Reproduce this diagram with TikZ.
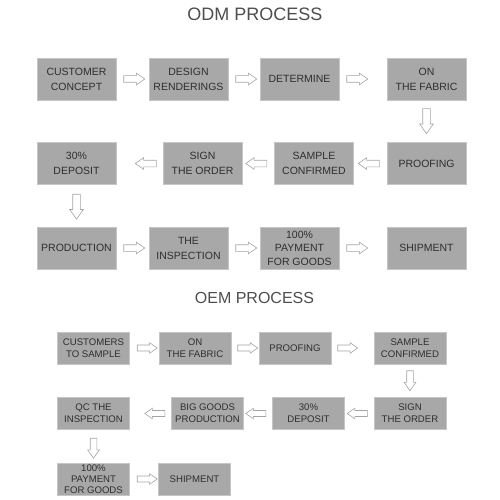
\documentclass[tikz,border=0pt]{standalone}
\usepackage{fontspec}
\setmainfont{Liberation Sans}
\usetikzlibrary{positioning,shapes.arrows}

\definecolor{boxgray}{HTML}{A8A8A8}
\definecolor{boxline}{HTML}{C6C6C6}
\definecolor{txtgray}{HTML}{2E2E2E}
\definecolor{arrgray}{HTML}{A4A4A4}

\tikzset{
    bigbox/.style={draw=boxline, fill=boxgray, line width=0.8pt, minimum width=79pt,
        minimum height=42pt, inner sep=0pt, align=center, text=txtgray,
        font=\fontsize{10.5}{15}\selectfont},
    smallbox/.style={draw=boxline, fill=boxgray, line width=0.8pt, minimum width=72pt,
        minimum height=32pt, inner sep=0pt, align=center, text=txtgray,
        font=\fontsize{9.6}{11.7}\selectfont},
    heading/.style={text=txtgray!85, inner sep=0pt},
    flow/.style={single arrow, draw=arrgray, fill=white, line width=0.6pt,
        single arrow tip angle=70, anchor=tail},
    bigflow/.style={flow, minimum height=21pt, inner xsep=0pt, inner ysep=3pt,
        single arrow head extend=2.5pt},
    bigdown/.style={flow, minimum height=25pt, inner ysep=0pt, inner xsep=3.5pt,
        single arrow head extend=3pt, shape border rotate=270},
    smallflow/.style={flow, minimum height=20pt, inner xsep=0pt, inner ysep=2.7pt,
        single arrow head extend=2.3pt},
    smalldown/.style={flow, minimum height=20pt, inner ysep=0pt, inner xsep=3pt,
        single arrow head extend=2.5pt, shape border rotate=270}
}

\begin{document}
\begin{tikzpicture}[x=1pt, y=-1pt]
    \useasboundingbox (0,0) rectangle (500,500);

    % ODM process
    \node[heading, font=\fontsize{18}{18}\selectfont] (odm) at (255,14) {ODM PROCESS};

    \node[bigbox] (concept) at (76.5,79) {CUSTOMER\\CONCEPT};
    \node[bigbox] (design) at (188.5,79) {DESIGN\\RENDERINGS};
    \node[bigbox] (determine) at (299.5,79) {DETERMINE};
    \node[bigbox] (fabric) at (426.5,79) {ON\\THE FABRIC};

    \node[bigbox] (proofing) at (426.5,163.5) {PROOFING};
    \node[bigbox] (confirmed) at (314,163.5) {SAMPLE\\CONFIRMED};
    \node[bigbox] (sign) at (202.5,163.5) {SIGN\\THE ORDER};
    \node[bigbox] (deposit) at (76.5,163.5) {30\%\\DEPOSIT};

    \node[bigbox] (production) at (76.5,248) {PRODUCTION};
    \node[bigbox] (inspection) at (188.5,248) {THE\\INSPECTION};
    \node[bigbox, font=\fontsize{10.5}{13.5}\selectfont] (payment) at (299.5,248) {100\%\\PAYMENT\\FOR GOODS};
    \node[bigbox] (shipment) at (426.5,248) {SHIPMENT};

    \node[bigflow] (a1) at ([xshift=7pt]concept.east) {};
    \node[bigflow] (a2) at ([xshift=7pt]design.east) {};
    \node[bigflow] (a3) at ([xshift=7pt]determine.east) {};
    \node[bigdown] (a4) at ([yshift=-8pt]fabric.south) {};
    \node[bigflow, shape border rotate=180] (a5) at ([xshift=-7pt]proofing.west) {};
    \node[bigflow, shape border rotate=180] (a6) at ([xshift=-7pt]confirmed.west) {};
    \node[bigflow, shape border rotate=180] (a7) at ([xshift=-6pt]sign.west) {};
    \node[bigdown] (a8) at ([yshift=-9pt]deposit.south) {};
    \node[bigflow] (a9) at ([xshift=7pt]production.east) {};
    \node[bigflow] (a10) at ([xshift=7pt]inspection.east) {};
    \node[bigflow] (a11) at ([xshift=7pt]payment.east) {};

    % OEM process
    \node[heading, font=\fontsize{16}{16}\selectfont] (oem) at (254.5,297.5) {OEM PROCESS};

    \node[smallbox] (tosample) at (93.5,348) {CUSTOMERS\\TO SAMPLE};
    \node[smallbox] (onfabric) at (195,348) {ON\\THE FABRIC};
    \node[smallbox] (oproofing) at (295,348) {PROOFING};
    \node[smallbox] (oconfirmed) at (410,348) {SAMPLE\\CONFIRMED};

    \node[smallbox] (osign) at (410,413.5) {SIGN\\THE ORDER};
    \node[smallbox] (odeposit) at (308.5,413.5) {30\%\\DEPOSIT};
    \node[smallbox] (bigprod) at (207.5,413.5) {BIG GOODS\\PRODUCTION};
    \node[smallbox] (qc) at (93.5,413.5) {QC THE\\INSPECTION};

    \node[smallbox, font=\fontsize{9.6}{10.8}\selectfont] (opayment) at (93.5,479) {100\%\\PAYMENT\\FOR GOODS};
    \node[smallbox] (oshipment) at (194.5,479) {SHIPMENT};

    \node[smallflow] (b1) at ([xshift=7pt]tosample.east) {};
    \node[smallflow] (b2) at ([xshift=6pt]onfabric.east) {};
    \node[smallflow] (b3) at ([xshift=6pt]oproofing.east) {};
    \node[smalldown] (b4) at ([yshift=-6pt]oconfirmed.south) {};
    \node[smallflow, shape border rotate=180] (b5) at ([xshift=-6pt]osign.west) {};
    \node[smallflow, shape border rotate=180] (b6) at ([xshift=-6pt]odeposit.west) {};
    \node[smallflow, shape border rotate=180] (b7) at ([xshift=-6pt]bigprod.west) {};
    \node[smalldown] (b8) at ([yshift=-8pt]qc.south) {};
    \node[smallflow] (b9) at ([xshift=7pt]opayment.east) {};
\end{tikzpicture}
\end{document}
